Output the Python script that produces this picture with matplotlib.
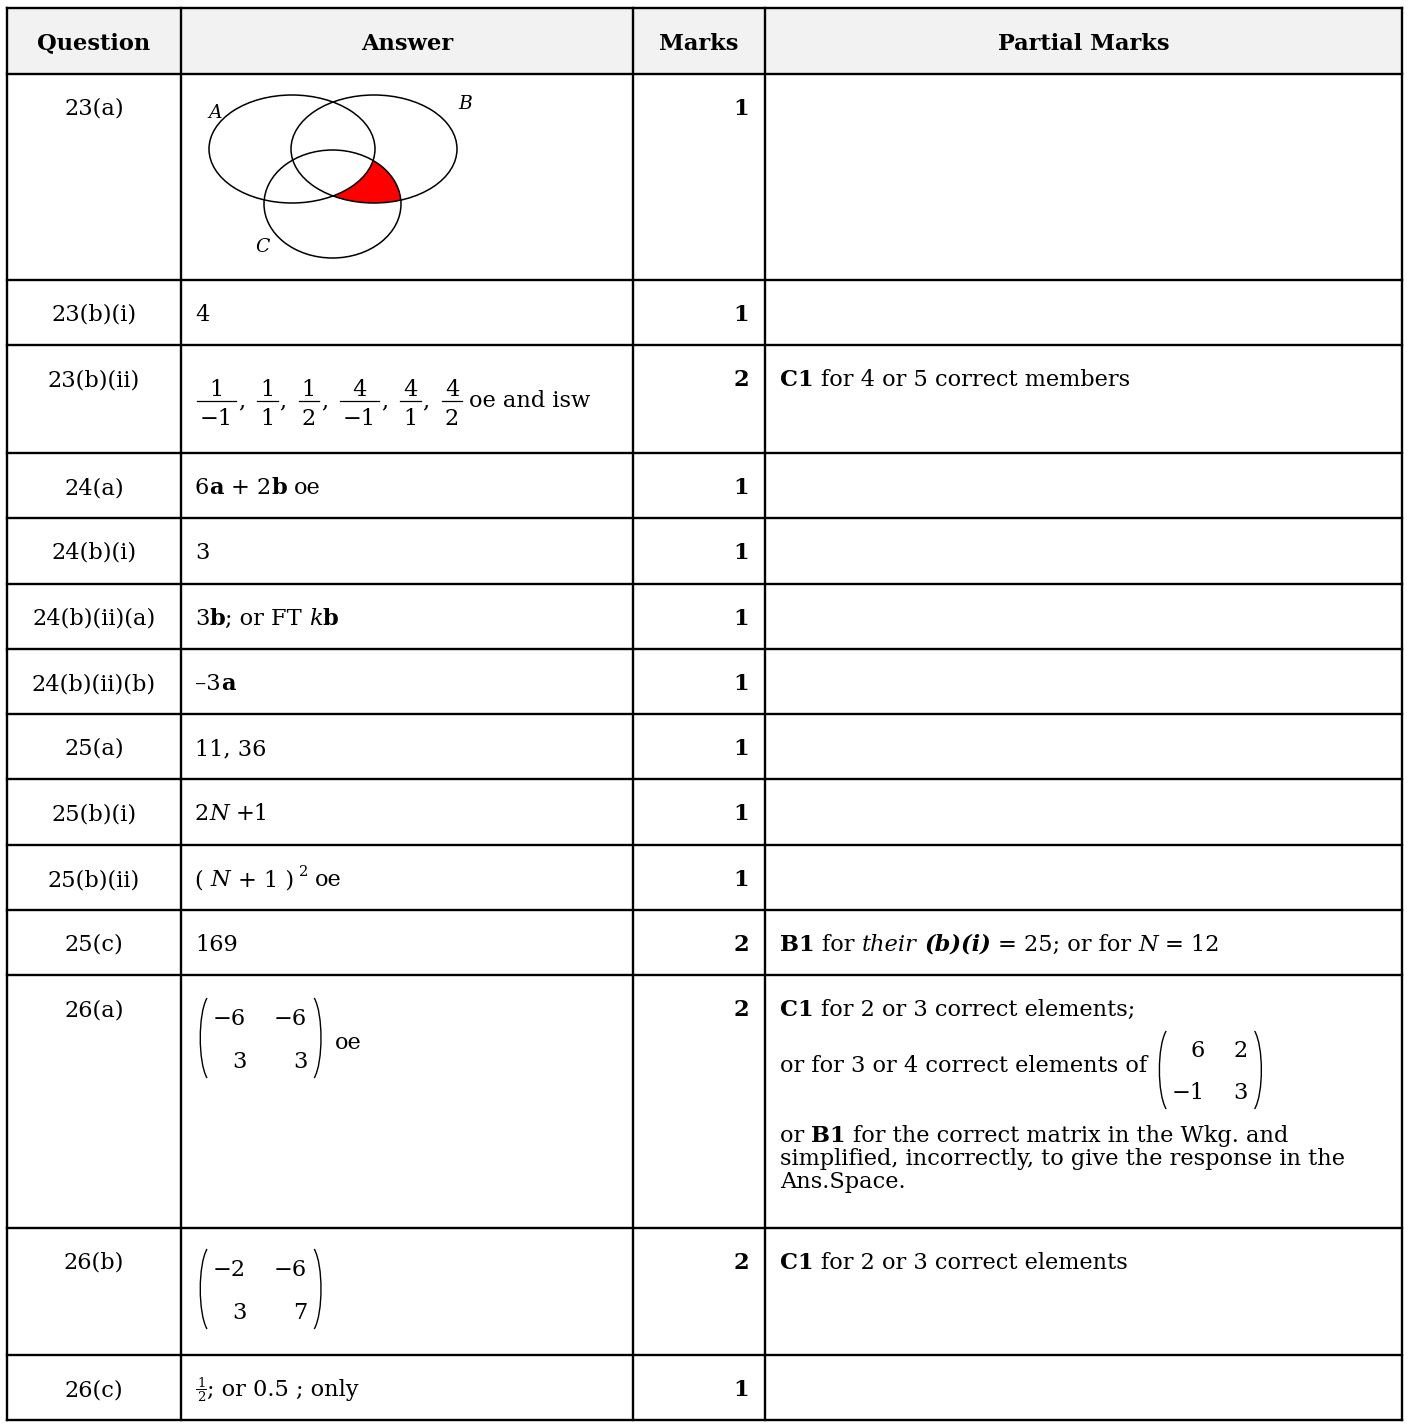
import matplotlib
matplotlib.use("Agg")
import matplotlib.pyplot as plt
from matplotlib.font_manager import FontProperties
from matplotlib.patches import Ellipse, Rectangle, PathPatch
from matplotlib.path import Path

# ---- table content ----
headers = ["Question", "Answer", "Marks", "Partial Marks"]
questions = ["23(a)", "23(b)(i)", "23(b)(ii)", "24(a)", "24(b)(i)", "24(b)(ii)(a)",
             "24(b)(ii)(b)", "25(a)", "25(b)(i)", "25(b)(ii)", "25(c)", "26(a)",
             "26(b)", "26(c)"]
marks = [1, 1, 2, 1, 1, 1, 1, 1, 1, 1, 2, 2, 2, 1]

# runs of (text, style[, size, rise]); style n=normal b=bold i=italic bi=bold italic
answers = {
    "23(b)(i)": [("4", "n")],
    "24(a)": [("6", "n"), ("a", "b"), (" + 2", "n"), ("b", "b"), (" oe", "n")],
    "24(b)(i)": [("3", "n")],
    "24(b)(ii)(a)": [("3", "n"), ("b", "b"), ("; or FT ", "n"), ("k", "i"), ("b", "b")],
    "24(b)(ii)(b)": [("–3", "n"), ("a", "b")],
    "25(a)": [("11, 36", "n")],
    "25(b)(i)": [("2", "n"), ("N", "i"), (" +1", "n")],
    "25(b)(ii)": [("( ", "n"), ("N", "i"), (" + 1 )", "n"), (" 2", "n", 10.5, 10), (" oe", "n")],
    "25(c)": [("169", "n")],
}
frac_num = ["1", "1", "1", "4", "4", "4"]
frac_den = ["−1", "1", "2", "−1", "1", "2"]
mat_26a = [["−6", "−6"], ["3", "3"]]
mat_26b = [["−2", "−6"], ["3", "7"]]
mat_hint = [["6", "2"], ["−1", "3"]]

partial = {
    "23(b)(ii)": [[("C1", "b"), (" for 4 or 5 correct members", "n")]],
    "25(c)": [[("B1", "b"), (" for ", "n"), ("their", "i"), (" (b)(i)", "bi"),
               (" = 25; or for ", "n"), ("N", "i"), (" = 12", "n")]],
    "26(a)": [[("C1", "b"), (" for 2 or 3 correct elements;", "n")],
              [("or for 3 or 4 correct elements of", "n")],
              [("or ", "n"), ("B1", "b"), (" for the correct matrix in the Wkg. and", "n")],
              [("simplified, incorrectly, to give the response in the", "n")],
              [("Ans.Space.", "n")]],
    "26(b)": [[("C1", "b"), (" for 2 or 3 correct elements", "n")]],
}

# ---- layout (pixels) ----
W, H = 1409, 1427
FAMILY = "DejaVu Serif"
FS = 16.2
col_x = [7, 181, 633, 765, 1402]
row_y = [8, 74, 280, 345, 453, 518, 584, 649, 714, 779, 845, 910, 975, 1228, 1355, 1420]
LW = 1.7

fig = plt.figure(figsize=(W / 100, H / 100), dpi=100)
ax = fig.add_axes([0, 0, 1, 1])
ax.set_xlim(0, W)
ax.set_ylim(H, 0)
ax.axis("off")
renderer = fig.canvas.get_renderer()


def prop(style="n", size=FS):
    return FontProperties(family=FAMILY, size=size,
                          weight="bold" if "b" in style else "normal",
                          style="italic" if "i" in style else "normal")


def text_w(s, fp):
    if not s:
        return 0.0
    w1 = renderer.get_text_width_height_descent("|" + s + "|", fp, False)[0]
    w0 = renderer.get_text_width_height_descent("||", fp, False)[0]
    return w1 - w0


def draw_runs(x, y, parts):
    for part in parts:
        s, st = part[0], part[1]
        size = part[2] if len(part) > 2 else FS
        rise = part[3] if len(part) > 3 else 0
        fp = prop(st, size)
        body = s.lstrip(" ")
        lead = text_w(s[:len(s) - len(body)], fp)
        if body:
            ax.text(x + lead, y - rise, body, fontproperties=fp,
                    ha="left", va="baseline", zorder=5)
        x += text_w(s, fp)
    return x


def paren(x, top, h, left, pw=9):
    xin, xout = (x + pw, x) if left else (x, x + pw)
    verts = [(xin, top), (xout, top + 0.2 * h), (xout, top + 0.8 * h), (xin, top + h)]
    codes = [Path.MOVETO, Path.CURVE4, Path.CURVE4, Path.CURVE4]
    ax.add_patch(PathPatch(Path(verts, codes), fill=False, lw=1.0, color="black", zorder=5))


def draw_matrix(x, top, rows, h=80):
    fp = prop("n")
    ncol = len(rows[0])
    colw = [max(text_w(r[c], fp) for r in rows) for c in range(ncol)]
    paren(x, top, h, True)
    cx = x + 9 + 6
    bases = [top + 0.24 * h + 7.5, top + 0.78 * h + 7.5]
    for c in range(ncol):
        cx += colw[c]
        for r, row in enumerate(rows):
            ax.text(cx, bases[r], row[c], fontproperties=fp, ha="right",
                    va="baseline", zorder=5)
        if c < ncol - 1:
            cx += 28
    cx += 7
    paren(cx, top, h, False)
    return cx + 9


# header background
ax.add_patch(Rectangle((col_x[0], row_y[0]), col_x[-1] - col_x[0], row_y[1] - row_y[0],
                       facecolor="#f2f2f2", edgecolor="none", zorder=0))
for i, hd in enumerate(headers):
    ax.text((col_x[i] + col_x[i + 1]) / 2, 49.5, hd, fontproperties=prop("b"),
            ha="center", va="baseline", zorder=5)

# grid lines
for y in row_y:
    ax.plot([col_x[0], col_x[-1]], [y, y], color="black", lw=LW,
            solid_capstyle="projecting", zorder=4)
for x in col_x:
    ax.plot([x, x], [row_y[0], row_y[-1]], color="black", lw=LW,
            solid_capstyle="projecting", zorder=4)

ans_x = col_x[1] + 14
part_x = col_x[3] + 15
mark_x = col_x[3] - 16

for i, q in enumerate(questions):
    top = row_y[i + 1]
    base = top + 41
    ax.text((col_x[0] + col_x[1]) / 2, base, q, fontproperties=prop("n"),
            ha="center", va="baseline", zorder=5)
    ax.text(mark_x, base, str(marks[i]), fontproperties=prop("b"),
            ha="right", va="baseline", zorder=5)
    if q in answers:
        draw_runs(ans_x, base, answers[q])
    if q in partial and q != "26(a)":
        draw_runs(part_x, base, partial[q][0])

# 23(a) Venn diagram: shade B and C but not A
ox, oy = col_x[1], row_y[1]
ell_a = dict(xy=(ox + 111, oy + 75), width=166, height=108)
ell_b = dict(xy=(ox + 193, oy + 75), width=166, height=108)
ell_c = dict(xy=(ox + 151.5, oy + 130), width=137, height=108)
clip_c = Ellipse(**ell_c, transform=ax.transData)
red = Ellipse(**ell_b, facecolor="#ff0000", edgecolor="none", zorder=1)
ax.add_patch(red)
red.set_clip_path(clip_c)
ax.add_patch(Ellipse(**ell_a, facecolor="white", edgecolor="none", zorder=2))
for e in (ell_a, ell_b, ell_c):
    ax.add_patch(Ellipse(**e, facecolor="none", edgecolor="black", lw=1.1, zorder=3))
for lab, dx, dy in (("A", 34, 44), ("B", 284, 35), ("C", 81, 178)):
    ax.text(ox + dx, oy + dy, lab, fontproperties=prop("i", 13.5), ha="center",
            va="baseline", zorder=5)

# 23(b)(ii) list of fractions
fp = prop("n")
x = ans_x + 2
bar_y = row_y[3] + 56
for k, (nu, de) in enumerate(zip(frac_num, frac_den)):
    wmax = max(text_w(nu, fp), text_w(de, fp)) + 6
    ax.plot([x, x + wmax], [bar_y, bar_y], color="black", lw=0.9, zorder=5)
    ax.text(x + wmax / 2, bar_y - 5, nu, fontproperties=fp, ha="center", va="baseline", zorder=5)
    ax.text(x + wmax / 2, bar_y + 24, de, fontproperties=fp, ha="center", va="baseline", zorder=5)
    x += wmax + 2
    if k < len(frac_num) - 1:
        x = draw_runs(x, bar_y + 6, [(",", "n")]) + 12
draw_runs(x + 5, bar_y + 6, [("oe and isw", "n")])

# 26(a) answer matrix
r26a = row_y[12]
xe = draw_matrix(ans_x + 3, r26a + 23, mat_26a)
draw_runs(xe + 12, r26a + 74, [("oe", "n")])

# 26(a) partial marks
lines = partial["26(a)"]
draw_runs(part_x, r26a + 41, lines[0])
xe = draw_runs(part_x, r26a + 97, lines[1])
draw_matrix(xe + 10, r26a + 56, mat_hint, h=78)
for j, ln in enumerate(lines[2:]):
    draw_runs(part_x, r26a + 167 + 23 * j, ln)

# 26(b) answer matrix
r26b = row_y[13]
draw_matrix(ans_x + 3, r26b + 21, mat_26b)

# 26(c) small fraction then text
r26c = row_y[14]
sfp = prop("n", 9.5)
cb = r26c + 41
fx = ans_x + 1
fw = text_w("2", sfp) + 2
ax.plot([fx, fx + fw], [cb - 7, cb - 7], color="black", lw=0.7, zorder=5)
ax.text(fx + fw / 2, cb - 9, "1", fontproperties=sfp, ha="center", va="baseline", zorder=5)
ax.text(fx + fw / 2, cb + 5, "2", fontproperties=sfp, ha="center", va="baseline", zorder=5)
draw_runs(fx + fw + 1, cb, [("; or 0.5 ; only", "n")])

fig.savefig("out.png", dpi=100)
